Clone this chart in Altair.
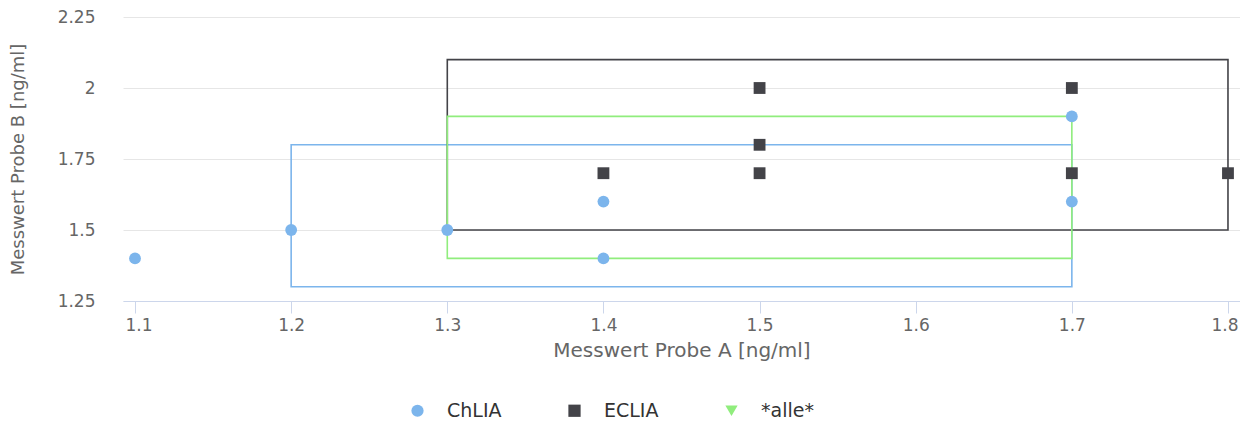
import altair as alt
import pandas as pd

# ---- data ----
series_names = ["ChLIA", "ECLIA", "*alle*"]
series_colors = ["#7cb5ec", "#434348", "#90ed7d"]
series_shapes = ["circle", "square", "triangle-down"]

chlia_x = [1.1, 1.2, 1.3, 1.4, 1.4, 1.7, 1.7]
chlia_y = [1.4, 1.5, 1.5, 1.6, 1.4, 1.9, 1.6]
eclia_x = [1.4, 1.5, 1.5, 1.5, 1.7, 1.7, 1.8]
eclia_y = [1.7, 2.0, 1.8, 1.7, 2.0, 1.7, 1.7]

rect_series = ["ChLIA", "ECLIA", "*alle*"]
rect_x1 = [1.2, 1.3, 1.3]
rect_x2 = [1.7, 1.8, 1.7]
rect_y1 = [1.3, 1.5, 1.4]
rect_y2 = [1.8, 2.1, 1.9]

x_ticks = [1.1, 1.2, 1.3, 1.4, 1.5, 1.6, 1.7, 1.8]
y_ticks = [1.25, 1.5, 1.75, 2.0, 2.25]
x_domain = [1.0923, 1.8077]
y_domain = [1.25, 2.25]

points = pd.DataFrame({
    "series": ["ChLIA"] * len(chlia_x) + ["ECLIA"] * len(eclia_x),
    "x": chlia_x + eclia_x,
    "y": chlia_y + eclia_y,
})
rects = pd.DataFrame({"box": rect_series, "x1": rect_x1, "x2": rect_x2,
                      "y1": rect_y1, "y2": rect_y2})

FONT = "DejaVu Sans"

xscale = alt.Scale(domain=x_domain, nice=False, zero=False)
yscale = alt.Scale(domain=y_domain, nice=False, zero=False)

xaxis = alt.Axis(values=x_ticks, labelExpr="toString(datum.value)",
                 title="Messwert Probe A [ng/ml]",
                 grid=False, domainColor="#ccd6eb", tickColor="#ccd6eb",
                 tickSize=12, labelPadding=4, labelFontSize=17, labelColor="#666666",
                 labelFlush=14, labelFlushOffset=10,
                 labelFont=FONT, titleFont=FONT, titleFontSize=20, titleColor="#666666",
                 titleFontWeight="normal", titleY=55, titleBaseline="alphabetic")
yaxis = alt.Axis(values=y_ticks, labelExpr="toString(datum.value)",
                 title="Messwert Probe B [ng/ml]",
                 grid=True, gridColor="#e6e6e6", domain=False, ticks=False,
                 labelPadding=28, labelFontSize=17, labelColor="#666666",
                 labelFont=FONT, titleFont=FONT, titleFontSize=18, titleColor="#666666",
                 titleFontWeight="normal", titleX=-105, titleY=142,
                 titleAlign="center", titleBaseline="middle", titleAngle=270)

rect_layer = alt.Chart(rects).mark_rect(fillOpacity=0, strokeWidth=1.6).encode(
    x=alt.X("x1:Q", scale=xscale, axis=xaxis),
    x2="x2:Q",
    y=alt.Y("y1:Q", scale=yscale, axis=yaxis),
    y2="y2:Q",
    stroke=alt.Stroke("box:N", scale=alt.Scale(domain=series_names, range=series_colors),
                      legend=None),
)

point_layer = alt.Chart(points).mark_point(filled=True, opacity=1, size=140).encode(
    x=alt.X("x:Q", scale=xscale),
    y=alt.Y("y:Q", scale=yscale),
    color=alt.Color("series:N", scale=alt.Scale(domain=series_names, range=series_colors),
                    legend=alt.Legend(title=None, orient="none", legendX=285, legendY=384,
                                      direction="horizontal", columns=3, columnPadding=63,
                                      labelFont=FONT, labelFontSize=19, labelColor="#333333",
                                      symbolSize=150, labelOffset=20, padding=0,
                                      symbolStrokeWidth=0)),
    shape=alt.Shape("series:N", scale=alt.Scale(domain=series_names, range=series_shapes)),
)

chart = alt.layer(rect_layer, point_layer).resolve_scale(
    stroke="independent"
).properties(
    width=1117, height=284,
    padding={"left": 115, "top": 9, "right": 0, "bottom": 119},
    autosize=alt.AutoSizeParams(type="none"),
).configure_view(stroke=None)

chart.save("out.html", embed_options={"renderer": "svg", "actions": False})
